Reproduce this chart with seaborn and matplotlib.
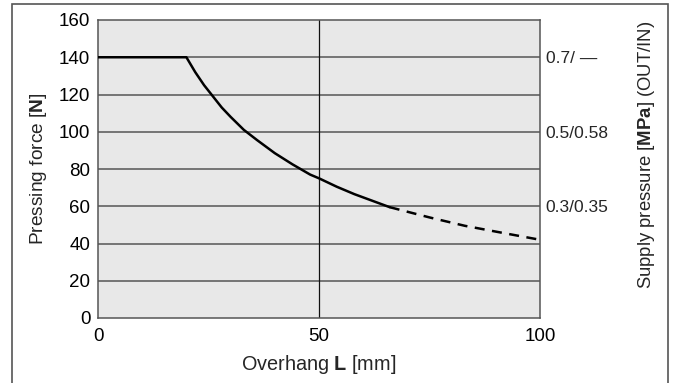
import matplotlib
matplotlib.use("Agg")
import matplotlib.pyplot as plt
import seaborn as sns
import pandas as pd
from matplotlib.patches import Rectangle

# curve
overhang_solid = [0, 20, 22, 24, 26, 28, 30, 33, 36, 40, 44, 48, 50, 54, 58, 62, 66]
force_solid = [140, 140, 132, 125, 119, 113, 108, 101, 95.5, 88.5, 82.5, 77, 75, 70.5, 66.5, 63, 59.5]
overhang_dash = [66, 75, 83, 92, 100]
force_dash = [59.5, 54, 49.5, 45.5, 42]

x_ticks = [0, 50, 100]
y_ticks = [0, 20, 40, 60, 80, 100, 120, 140, 160]
pressure_pos = [140, 100, 60]
pressure_labels = ["0.7/ \u2014", "0.5/0.58", "0.3/0.35"]

sns.set_theme(style="white")
plt.rcParams["font.family"] = ["Liberation Sans", "DejaVu Sans"]
plt.rcParams["mathtext.fontset"] = "custom"
plt.rcParams["mathtext.rm"] = "Liberation Sans"
plt.rcParams["mathtext.bf"] = "Liberation Sans:bold"

solid = pd.DataFrame({"L": overhang_solid, "F": force_solid})
dash = pd.DataFrame({"L": overhang_dash, "F": force_dash})

fig, ax = plt.subplots(figsize=(6.75, 3.83), dpi=100)
fig.subplots_adjust(left=98 / 675, right=540 / 675, top=1 - 20 / 383, bottom=1 - 318 / 383)
ax.set_facecolor("#e8e8e8")

for y in y_ticks[1:-1]:
    ax.axhline(y, color="#555555", lw=1.1, zorder=1)
ax.axvline(50, color="#111111", lw=0.9, zorder=1)

sns.lineplot(data=solid, x="L", y="F", ax=ax, color="black", lw=1.8, sort=False, zorder=3)
sns.lineplot(data=dash, x="L", y="F", ax=ax, color="black", lw=1.8, sort=False,
             linestyle=(0, (4, 3)), zorder=3)

ax.set_xlim(0, 100)
ax.set_ylim(0, 160)
ax.set_xticks(x_ticks)
ax.set_yticks(y_ticks)
ax.tick_params(length=0, labelsize=13.5, colors="black")
ax.tick_params(axis="x", pad=7.5)
ax.tick_params(axis="y", pad=5.5)
for s in ax.spines.values():
    s.set_color("#555555")
    s.set_linewidth(1.1)
ax.set_xlabel(r"Overhang $\mathbf{L}$ [mm]", fontsize=14.3, labelpad=5.5)
ax.set_ylabel(r"Pressing force [$\mathbf{N}$]", fontsize=13.8, labelpad=7)

ax2 = ax.twinx()
ax2.set_ylim(0, 160)
ax2.set_yticks(pressure_pos)
ax2.set_yticklabels(pressure_labels)
ax2.tick_params(length=0, labelsize=12.5, pad=4)
for s in ax2.spines.values():
    s.set_visible(False)
ax2.set_ylabel(r"Supply pressure [$\mathbf{MPa}$] (OUT/IN)", fontsize=13.3)
ax2.yaxis.set_label_coords((636 - 98) / 442, (318 - 155) / 298)
ax2.grid(False)

fig.patches.append(Rectangle((12 / 675, -0.05), (668 - 12) / 675, 1.05 - 4 / 383,
                             transform=fig.transFigure, fill=False,
                             edgecolor="#555555", lw=1.2))

fig.savefig("out.png", dpi=100)
